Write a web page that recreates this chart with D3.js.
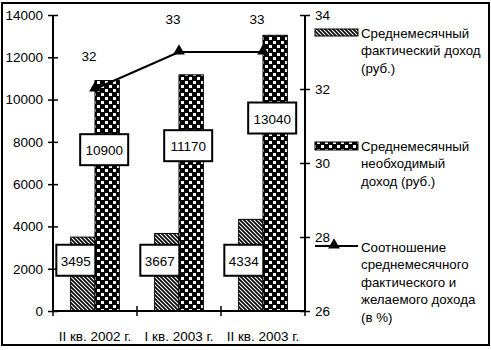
<!DOCTYPE html>
<html><head><meta charset="utf-8">
<script src="https://cdn.jsdelivr.net/npm/d3@7"></script>
<style>body{margin:0;background:#fff}svg{display:block}text{font-family:"Liberation Sans",Arial,sans-serif;fill:#000}</style>
</head><body><svg id="c" width="491" height="350"></svg>
<script>
const categories = ["II кв. 2002 г.", "I кв. 2003 г.", "II кв. 2003 г."];
const factIncome = [3495, 3667, 4334];
const needIncome = [10900, 11170, 13040];
const ratio = [32, 33, 33];
const leftTicks = [0, 2000, 4000, 6000, 8000, 10000, 12000, 14000];
const rightTicks = [26, 28, 30, 32, 34];
const legendFact = ["Среднемесячный", "фактический доход", "(руб.)"];
const legendNeed = ["Среднемесячный", "необходимый", "доход (руб.)"];
const legendRatio = ["Соотношение", "среднемесячного", "фактического и", "желаемого дохода", "(в %)"];

const svg = d3.select("#c");
const defs = svg.append("defs");
const ph = defs.append("pattern").attr("id","hatch").attr("patternUnits","userSpaceOnUse").attr("width",4).attr("height",4);
ph.append("rect").attr("width",4).attr("height",4).attr("fill","#fff");
ph.append("path").attr("d","M-1,-1L5,5M-1,3L1,5M3,-1L5,1").attr("stroke","#000").attr("stroke-width",1.6);
const pc = defs.append("pattern").attr("id","check").attr("patternUnits","userSpaceOnUse").attr("width",8).attr("height",8);
pc.append("rect").attr("width",8).attr("height",8).attr("fill","#000");
pc.append("rect").attr("x",1).attr("y",1).attr("width",3).attr("height",3).attr("fill","#fff");
pc.append("rect").attr("x",5).attr("y",5).attr("width",3).attr("height",3).attr("fill","#fff");

// frame
svg.append("rect").attr("x",2).attr("y",3).attr("width",487).attr("height",342).attr("fill","none").attr("stroke","#000").attr("stroke-width",2);

const x = d3.scaleBand().domain(categories).range([53,305]).padding(0);
const yL = d3.scaleLinear().domain([0,14000]).range([311,15]);
const yR = d3.scaleLinear().domain([26,34]).range([311,15]);
const bw = x.bandwidth()*0.29;
const cx = c => x(c)+x.bandwidth()/2;

// bars
const g = svg.append("g");
categories.forEach((c,i)=>{
  g.append("rect").attr("x",cx(c)-bw).attr("y",yL(factIncome[i])).attr("width",bw).attr("height",yL(0)-yL(factIncome[i]))
   .attr("fill","url(#hatch)").attr("stroke","#000").attr("stroke-width",1);
  g.append("rect").attr("x",cx(c)).attr("y",yL(needIncome[i])).attr("width",bw).attr("height",yL(0)-yL(needIncome[i]))
   .attr("fill","url(#check)").attr("stroke","#000").attr("stroke-width",1);
});

// axes
const axL = svg.append("g").attr("transform","translate(53,0)")
  .call(d3.axisLeft(yL).tickValues(leftTicks).tickSize(5).tickPadding(5).tickFormat(d3.format("d")));
axL.selectAll(".tick line").attr("x2",-5).attr("x1",5);
const axR = svg.append("g").attr("transform","translate(305,0)")
  .call(d3.axisRight(yR).tickValues(rightTicks).tickSize(5).tickPadding(5).tickFormat(d3.format("d")));
axR.selectAll(".tick line").attr("x1",-5).attr("x2",5);
const axB = svg.append("g").attr("transform","translate(0,311)")
  .call(d3.axisBottom(x).tickSize(0).tickPadding(20));
axB.selectAll(".tick line").remove();
const edges = categories.map(c=>x(c)).concat([x(categories[categories.length-1])+x.bandwidth()]);
edges.forEach(e=>svg.append("line").attr("x1",e).attr("x2",e).attr("y1",306).attr("y2",316).attr("stroke","#000").attr("stroke-width",1.5));
[axL,axR,axB].forEach(a=>{
  a.selectAll(".domain").attr("stroke","#000").attr("stroke-width",2);
  a.selectAll(".tick line").attr("stroke","#000").attr("stroke-width",1.5);
  a.selectAll("text").attr("font-size","13.5px").attr("fill","#000").style("font-family","'Liberation Sans',Arial,sans-serif");
});
axL.select(".domain").attr("d","M0,15V311");
axR.select(".domain").attr("d","M0,15V311");
axB.select(".domain").attr("d","M53,0H305");

// line
const line = d3.line().x((d,i)=>cx(categories[i])).y(d=>yR(d));
svg.append("path").datum(ratio).attr("d",line).attr("fill","none").attr("stroke","#000").attr("stroke-width",2);
const tri = d3.symbol().type(d3.symbolTriangle).size(60);
ratio.forEach((v,i)=>{
  svg.append("path").attr("d",tri).attr("transform",`translate(${cx(categories[i])},${yR(v)-1})`).attr("fill","#000");
  svg.append("text").attr("x",cx(categories[i])-6).attr("y",yR(v)-33).attr("text-anchor","middle").attr("dominant-baseline","central")
    .attr("font-size","13.5px").text(v);
});

// value labels
function boxLabel(xc, yc, txt){
  const w = txt.length>4 ? 48 : 39, h = 31;
  svg.append("rect").attr("x",xc-w/2).attr("y",yc-h/2).attr("width",w).attr("height",h).attr("fill","#fff").attr("stroke","#000").attr("stroke-width",2);
  svg.append("text").attr("x",xc).attr("y",yc+1).attr("text-anchor","middle").attr("dominant-baseline","central").attr("font-size","13.5px").text(txt);
}
categories.forEach((c,i)=>{
  boxLabel(cx(c)-bw/2-7, yL(2400), String(factIncome[i]));
  boxLabel(cx(c)+bw/2-3, yL(needIncome[i]*0.7), String(needIncome[i]));
});

// legend
const lx = 361, fs = "13.3px";
function legendText(lines, y0){
  lines.forEach((t,j)=>svg.append("text").attr("x",lx).attr("y",y0+j*17.6).attr("dominant-baseline","central").attr("font-size",fs).text(t));
}
svg.append("rect").attr("x",315).attr("y",29).attr("width",43).attr("height",7).attr("fill","url(#hatch)").attr("stroke","#000").attr("stroke-width",1);
legendText(legendFact, 33);
svg.append("rect").attr("x",315).attr("y",142).attr("width",43).attr("height",8).attr("fill","url(#check)").attr("stroke","#000").attr("stroke-width",1);
legendText(legendNeed, 146);
svg.append("line").attr("x1",315).attr("x2",358).attr("y1",246).attr("y2",246).attr("stroke","#000").attr("stroke-width",2);
svg.append("path").attr("d",tri).attr("transform","translate(334,245)").attr("fill","#000");
legendText(legendRatio, 247);
</script></body></html>
